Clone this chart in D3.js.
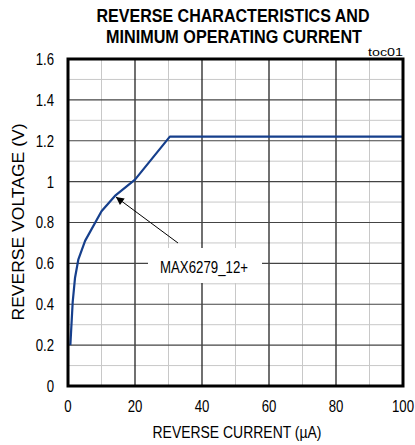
<!DOCTYPE html>
<html>
<head>
<meta charset="utf-8">
<script src="https://cdn.jsdelivr.net/npm/d3@7"></script>
<style>
  body { margin: 0; background: #fff; }
  text { font-family: "Liberation Sans", Arial, sans-serif; fill: #000; }
</style>
</head>
<body>
<div class="chart"></div>
<script>
// reverse current (uA) vs reverse voltage (V)
var current = [0.7, 1.4, 2.1, 3.1, 5.1, 10, 14, 20, 30.4, 100];
var voltage = [0.2, 0.41, 0.53, 0.62, 0.71, 0.855, 0.93, 1.01, 1.22, 1.22];

var xTicks = [0, 20, 40, 60, 80, 100];
var yTicks = [0, 0.2, 0.4, 0.6, 0.8, 1, 1.2, 1.4, 1.6];
var xMinor = [10, 30, 50, 70, 90];
var yMinor = [0.1, 0.3, 0.5, 0.7, 0.9, 1.1, 1.3, 1.5];

var w = 415, h = 445;
var m = {left: 68, top: 59, right: 12, bottom: 59};
var pw = w - m.left - m.right, ph = h - m.top - m.bottom;

var svg = d3.select(".chart").append("svg")
    .attr("width", w)
    .attr("height", h);

var x = d3.scaleLinear().domain([0, 100]).range([m.left, m.left + pw]);
var y = d3.scaleLinear().domain([0, 1.6]).range([m.top + ph, m.top]);

// minor grid
svg.selectAll(".xminor").data(xMinor).enter().append("line")
    .attr("x1", function(d) { return x(d); }).attr("x2", function(d) { return x(d); })
    .attr("y1", y(0)).attr("y2", y(1.6))
    .attr("stroke", "#c8c8c8").attr("stroke-width", 1);
svg.selectAll(".yminor").data(yMinor).enter().append("line")
    .attr("y1", function(d) { return y(d); }).attr("y2", function(d) { return y(d); })
    .attr("x1", x(0)).attr("x2", x(100))
    .attr("stroke", "#c8c8c8").attr("stroke-width", 1);

// major grid
svg.selectAll(".xmajor").data(xTicks).enter().append("line")
    .attr("x1", function(d) { return x(d); }).attr("x2", function(d) { return x(d); })
    .attr("y1", y(0)).attr("y2", y(1.6))
    .attr("stroke", "#111").attr("stroke-width", 1.2);
svg.selectAll(".ymajor").data(yTicks).enter().append("line")
    .attr("y1", function(d) { return y(d); }).attr("y2", function(d) { return y(d); })
    .attr("x1", x(0)).attr("x2", x(100))
    .attr("stroke", "#444").attr("stroke-width", 1.2);

// label box hides grid behind it
svg.append("rect")
    .attr("x", 148).attr("y", 248).attr("width", 114).attr("height", 35)
    .attr("fill", "#fff");

// curve
var line = d3.line()
    .x(function(d) { return x(d[0]); })
    .y(function(d) { return y(d[1]); });
svg.append("path")
    .datum(d3.zip(current, voltage))
    .attr("d", line)
    .attr("fill", "none")
    .attr("stroke", "#163f8c")
    .attr("stroke-width", 2.2)
    .attr("stroke-linejoin", "round");

// frame
svg.append("rect")
    .attr("x", x(0)).attr("y", y(1.6))
    .attr("width", pw).attr("height", ph)
    .attr("fill", "none").attr("stroke", "#000").attr("stroke-width", 3);

// tick labels, narrow like the original
svg.selectAll(".ylab").data(yTicks).enter().append("text")
    .attr("x", 54).attr("y", function(d) { return y(d); })
    .attr("dy", "0.36em")
    .attr("text-anchor", "end")
    .attr("font-size", 16.5)
    .attr("transform", "translate(54,0) scale(0.8,1) translate(-54,0)")
    .text(function(d) { return d === 0 ? "0" : d3.format(".1~f")(d); });

svg.selectAll(".xlab").data(xTicks).enter().append("text")
    .attr("x", function(d) { return x(d); }).attr("y", 412.5)
    .attr("text-anchor", "middle")
    .attr("font-size", 16.5)
    .attr("transform", function(d) { return "translate(" + x(d) + ",0) scale(0.8,1) translate(" + (-x(d)) + ",0)"; })
    .text(function(d) { return d; });

svg.append("text")
    .attr("x", 237).attr("y", 437.5)
    .attr("text-anchor", "middle")
    .attr("font-size", 16)
    .attr("textLength", 169).attr("lengthAdjust", "spacingAndGlyphs")
    .text("REVERSE CURRENT  (\u00b5A)");

svg.append("text")
    .attr("transform", "translate(23.5,222) rotate(-90)")
    .attr("text-anchor", "middle")
    .attr("font-size", 17)
    .attr("textLength", 197).attr("lengthAdjust", "spacingAndGlyphs")
    .text("REVERSE VOLTAGE  (V)");

// title
svg.append("text")
    .attr("x", 233).attr("y", 22)
    .attr("text-anchor", "middle")
    .attr("font-size", 19).attr("font-weight", "bold")
    .attr("textLength", 273).attr("lengthAdjust", "spacingAndGlyphs")
    .text("REVERSE CHARACTERISTICS AND");
svg.append("text")
    .attr("x", 234).attr("y", 43)
    .attr("text-anchor", "middle")
    .attr("font-size", 19).attr("font-weight", "bold")
    .attr("textLength", 256).attr("lengthAdjust", "spacingAndGlyphs")
    .text("MINIMUM OPERATING CURRENT");

svg.append("text")
    .attr("x", 403).attr("y", 55.5)
    .attr("text-anchor", "end")
    .attr("font-size", 11)
    .attr("textLength", 35).attr("lengthAdjust", "spacingAndGlyphs")
    .text("toc01");

// annotation
svg.append("defs").append("marker")
    .attr("id", "arr")
    .attr("viewBox", "0 0 10 10")
    .attr("refX", 10).attr("refY", 5)
    .attr("markerWidth", 10).attr("markerHeight", 8)
    .attr("markerUnits", "userSpaceOnUse")
    .attr("orient", "auto")
    .append("path").attr("d", "M0,0 L10,5 L0,10 z").attr("fill", "#000");

svg.append("line")
    .attr("x1", 178).attr("y1", 243)
    .attr("x2", x(14) + 1).attr("y2", y(0.93) + 1)
    .attr("stroke", "#000").attr("stroke-width", 1)
    .attr("marker-end", "url(#arr)");

svg.append("text")
    .attr("x", 204).attr("y", 272.5)
    .attr("text-anchor", "middle")
    .attr("font-size", 16)
    .attr("textLength", 88).attr("lengthAdjust", "spacingAndGlyphs")
    .text("MAX6279_12+");
</script>
</body>
</html>
